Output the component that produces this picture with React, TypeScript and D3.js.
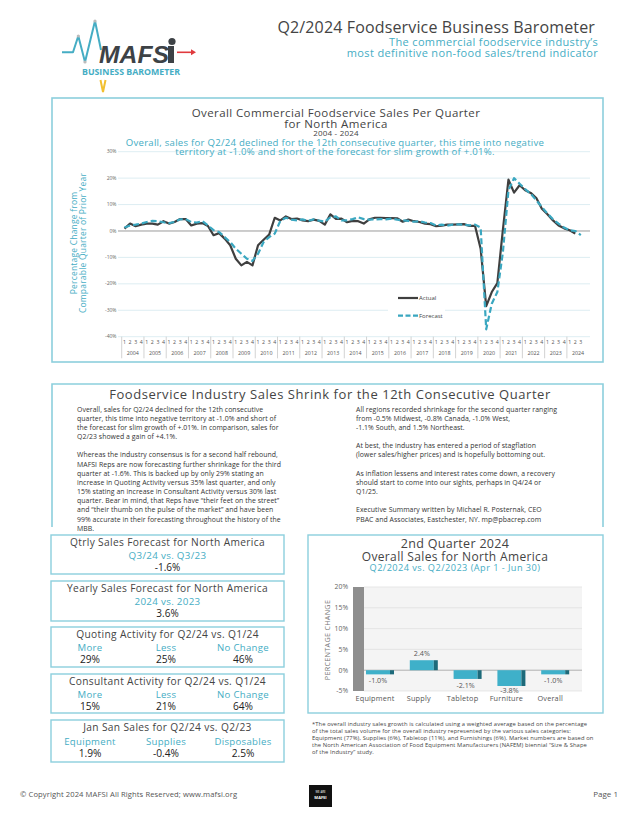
import React from "react";
import * as d3 from "d3";

// ---------- DATA ----------
const years = [2004,2005,2006,2007,2008,2009,2010,2011,2012,2013,2014,2015,2016,2017,2018,2019,2020,2021,2022,2023,2024];
const quarterLabels = ["1","2","3","4"];
const actual = [
  0.9, 2.8, 1.8, 2.4,
  2.8, 2.8, 2.4, 3.7,
  2.8, 3.4, 4.5, 4.5,
  2.1, 2.8, 3.0, 1.9,
  -1.6, -0.8, -2.9, -5.4,
  -10.5, -13.0, -11.7, -13.0,
  -5.4, -3.3, -1.4, 5.0,
  4.0, 5.5, 4.5, 4.7,
  4.0, 3.7, 4.3, 3.8,
  2.4, 6.3, 4.6, 4.7,
  3.3, 3.8, 3.7, 2.8,
  4.4, 5.0, 5.0, 4.9,
  4.9, 4.8, 3.5, 4.3,
  3.7, 3.4, 2.8, 2.6,
  1.8, 2.0, 2.4, 2.4,
  2.5, 2.6, 1.9, 1.9,
  -6.7, -28.4, -23.1, -19.7,
  0.5, 19.4, 14.5, 17.3,
  15.4, 14.4, 12.5, 8.4,
  6.3, 4.0, 2.1, 1.0,
  0.3, -1.0,
];
const forecast = [
  1.3, 2.1, 2.4, 2.8,
  3.4, 3.8, 3.7, 3.3,
  3.0, 3.4, 4.4, 4.5,
  3.4, 3.2, 3.7, 2.1,
  0.3, -0.4, -2.3, -4.2,
  -6.7, -8.6, -10.5, -11.3,
  -8.6, -4.2, -2.3, -1.0,
  3.8, 5.0, 4.3, 4.0,
  4.4, 3.8, 4.4, 3.9,
  3.5, 5.2, 5.5, 4.0,
  4.0, 4.5, 5.2, 4.5,
  4.3, 4.4, 4.5, 4.4,
  4.7, 4.3, 4.0, 3.8,
  3.5, 3.7, 3.2, 3.0,
  2.1, 2.4, 2.0, 2.4,
  2.5, 2.4, 2.1, 2.4,
  1.3, -37.2, -27.5, -23.1,
  -8.0, 15.4, 20.0, 17.9,
  15.8, 14.1, 11.6, 9.1,
  6.6, 4.4, 2.8, 1.3,
  0.3, 0.0, -1.6,
];
const yTicks = [30, 20, 10, 0, -10, -20, -30, -40];

const barCategories = ["Equipment", "Supply", "Tabletop", "Furniture", "Overall"];
const barValues = [-1.0, 2.4, -2.1, -3.8, -1.0];
const barTicks = [20, 15, 10, 5, 0, -5];

const leftColumn = [
  "Overall, sales for Q2/24 declined for the 12th consecutive",
  "quarter, this time into negative territory at -1.0% and short of",
  "the forecast for slim growth of +.01%. In comparison, sales for",
  "Q2/23 showed a gain of +4.1%.",
  "",
  "Whereas the industry consensus is for a second half rebound,",
  "MAFSI Reps are now forecasting further shrinkage for the third",
  "quarter at -1.6%.  This is backed up by only 29% stating an",
  "increase in Quoting Activity versus 35% last quarter, and only",
  "15% stating an increase in Consultant Activity versus 30% last",
  "quarter. Bear in mind, that Reps have \u201ctheir feet on the street\u201d",
  "and \u201ctheir thumb on the pulse of the market\u201d and have been",
  "99% accurate in their forecasting throughout the history of the",
  "MBB.",
];
const rightColumn = [
  "All regions recorded shrinkage for the second quarter ranging",
  "from -0.5% Midwest, -0.8% Canada, -1.0% West,",
  "-1.1% South, and 1.5% Northeast.",
  "",
  "At best, the industry has entered a period of stagflation",
  "(lower sales/higher prices) and is hopefully bottoming out.",
  "",
  "As inflation lessens and interest rates come down, a recovery",
  "should start to come into our sights, perhaps in Q4/24 or",
  "Q1/25.",
  "",
  "Executive Summary written by Michael R. Posternak, CEO",
  "PBAC and Associates, Eastchester, NY. mp@pbacrep.com",
];
const footnoteLines = [
  "*The overall industry sales growth is calculated using a weighted average based on the percentage",
  "of the total sales volume for the overall industry represented by the various sales categories:",
  "Equipment (77%), Supplies (6%), Tabletop (11%), and Furnishings (6%). Market numbers are based on",
  "the North American Association of Food Equipment Manufacturers (NAFEM) biennial \u201cSize & Shape",
  "of the Industry\u201d study.",
];

type StatBox = { title: string; labels: string[]; values: string[] };
const statBoxes: StatBox[] = [
  { title: "Qtrly Sales Forecast for North America", labels: ["Q3/24 vs. Q3/23"], values: ["-1.6%"] },
  { title: "Yearly Sales Forecast for North America", labels: ["2024 vs. 2023"], values: ["3.6%"] },
  { title: "Quoting Activity for Q2/24 vs. Q1/24", labels: ["More", "Less", "No Change"], values: ["29%", "25%", "46%"] },
  { title: "Consultant Activity for Q2/24 vs. Q1/24", labels: ["More", "Less", "No Change"], values: ["15%", "21%", "64%"] },
  { title: "Jan San Sales for Q2/24 vs. Q2/23", labels: ["Equipment", "Supplies", "Disposables"], values: ["1.9%", "-0.4%", "2.5%"] },
];

// ---------- STYLE ----------
const FONT = "'Open Sans', 'DejaVu Sans', sans-serif";
const TEAL = "#45adc4";
const BORDER = "#8ccfdd";
const DARK = "#3f3f3f";

export default function App() {
  // main line chart scales
  const x0 = 121.7;
  const qW = 5.565;
  const nQ = years.length * 4 - 1;
  const x = d3.scaleLinear().domain([0, nQ]).range([x0, x0 + nQ * qW]);
  const y = d3.scaleLinear().domain([-40, 30]).range([336.7, 151.7]);
  const line = d3
    .line<number>()
    .x((_, i) => x(i + 0.5))
    .y((d) => y(d))
    .curve(d3.curveLinear);

  // bar chart scales
  const bx = d3.scaleBand<string>().domain(barCategories).range([358, 577]);
  const by = d3.scaleLinear().domain([-5, 20]).range([691, 587]);

  const boxTops = [535, 581, 627, 674, 720];
  const boxH = [39, 40, 40, 39, 42];
  const colX = [90, 166, 243];

  return (
    <svg
      width={635}
      height={821}
      style={{ position: "absolute", left: 0, top: 0, background: "#fff", fontFamily: FONT }}
    >
      {/* ---------- HEADER / LOGO ---------- */}
      <polyline
        points="62,52.3 73,52.3 78.3,36 85,62 95,21 101,50"
        fill="none"
        stroke={TEAL}
        strokeWidth={2}
        strokeLinejoin="round"
      />
      <circle cx={78.3} cy={36} r={1.6} fill="#bbb" />
      <circle cx={85} cy={62} r={1.6} fill="#bbb" />
      <circle cx={95} cy={21} r={1.6} fill="#bbb" />
      <text
        x={99}
        y={63}
        fontFamily="'Liberation Sans', sans-serif"
        fontWeight={900}
        fontStyle="italic"
        fontSize={24}
        fill="#3d4246"
        textLength={70}
        lengthAdjust="spacingAndGlyphs"
      >
        MAFS
      </text>
      <rect x={168} y={46} width={6} height={17} fill="#3d4246" />
      <circle cx={172} cy={41.5} r={3.6} fill="#3d4246" />
      <line x1={177} y1={52.3} x2={192} y2={52.3} stroke="#e03a3e" strokeWidth={1.6} />
      <path d="M191,49.3 L196,52.3 L191,55.3 Z" fill="#e03a3e" />
      <text
        x={82}
        y={74.5}
        fontSize={8}
        fontWeight={700}
        fill={TEAL}
        textLength={98}
        lengthAdjust="spacingAndGlyphs"
      >
        BUSINESS BAROMETER
      </text>
      <path d="M100.5,80 L103,92 L105.5,80" fill="none" stroke="#f2c030" strokeWidth={2} />

      <text x={595} y={32.7} fontSize={16} fill="#444" textAnchor="end" letterSpacing={0.15}>
        Q2/2024 Foodservice Business Barometer
      </text>
      <text x={598} y={46} fontSize={11} fill={TEAL} textAnchor="end" letterSpacing={0.35}>
        The commercial foodservice industry{"\u2019"}s
      </text>
      <text x={598} y={56.7} fontSize={11} fill={TEAL} textAnchor="end" letterSpacing={0.35}>
        most definitive non-food sales/trend indicator
      </text>

      {/* ---------- MAIN CHART BOX ---------- */}
      <rect x={52} y={98} width={551} height={264} fill="none" stroke={BORDER} strokeWidth={1.6} />
      <text x={336} y={117} fontSize={11.5} fill="#444" textAnchor="middle" letterSpacing={0.4}>
        Overall Commercial Foodservice Sales Per Quarter
      </text>
      <text x={336} y={127.5} fontSize={11.5} fill="#444" textAnchor="middle" letterSpacing={0.4}>
        for North America
      </text>
      <text x={336} y={136} fontSize={8} fill="#444" textAnchor="middle" letterSpacing={0.2}>
        2004 - 2024
      </text>

      {/* gridlines */}
      {yTicks.map((t) => (
        <g key={t}>
          <line
            x1={118}
            x2={590}
            y1={y(t)}
            y2={y(t)}
            stroke={t === 0 ? "#9a9a9a" : "#d4e8ef"}
            strokeWidth={t === 0 ? 1 : 0.8}
          />
          <text x={116.5} y={y(t) + 1.6} fontSize={5} fill="#666" textAnchor="end">
            {t}%
          </text>
        </g>
      ))}

      <text x={335} y={146} fontSize={9.6} fill={TEAL} textAnchor="middle" letterSpacing={0.25}>
        Overall, sales for Q2/24 declined for the 12th consecutive quarter, this time into negative
      </text>
      <text x={335} y={155} fontSize={9.6} fill={TEAL} textAnchor="middle" letterSpacing={0.25}>
        territory at -1.0% and short of the forecast for slim growth of +.01%.
      </text>

      {/* y axis title */}
      <g transform="translate(77,243) rotate(-90)">
        <text x={0} y={0} fontSize={8.5} fill={TEAL} textAnchor="middle" letterSpacing={0.2}>
          Percentage Change from
        </text>
        <text x={0} y={9} fontSize={8.5} fill={TEAL} textAnchor="middle" letterSpacing={0.2}>
          Comparable Quarter of Prior Year
        </text>
      </g>

      {/* x axis */}
      {years.map((yr, yi) => {
        const nq = yi === years.length - 1 ? 3 : 4;
        const start = x(yi * 4);
        return (
          <g key={yr}>
            <line x1={start} x2={start} y1={336.7} y2={358.3} stroke="#b5b5b5" strokeWidth={0.6} />
            {quarterLabels.slice(0, nq).map((q, qi) => (
              <text
                key={q}
                x={x(yi * 4 + qi + 0.5)}
                y={343.5}
                fontSize={5.2}
                fill="#555"
                textAnchor="middle"
              >
                {q}
              </text>
            ))}
            <text x={x(yi * 4 + 2)} y={355.2} fontSize={5.3} fill="#555" textAnchor="middle">
              {yr}
            </text>
          </g>
        );
      })}

      {/* legend */}
      <rect x={388} y={289} width={57} height={33} fill="#fff" />
      <line x1={398} x2={418} y1={298} y2={298} stroke={DARK} strokeWidth={2.2} />
      <text x={419} y={300} fontSize={6} fill="#444">
        Actual
      </text>
      <line x1={398} x2={418} y1={315.7} y2={315.7} stroke="#3aa7c0" strokeWidth={2.2} strokeDasharray="5,2.5" />
      <text x={419} y={317.7} fontSize={6} fill="#444">
        Forecast
      </text>

      {/* lines */}
      <path d={line(actual) || ""} fill="none" stroke={DARK} strokeWidth={2.2} strokeLinejoin="round" />
      <path
        d={line(forecast) || ""}
        fill="none"
        stroke="#3aa7c0"
        strokeWidth={2.2}
        strokeDasharray="6,3"
        strokeLinejoin="round"
      />

      {/* ---------- SUMMARY SECTION ---------- */}
      <path d="M52,527 L52,384 L603,384 L603,527" fill="none" stroke={BORDER} strokeWidth={1.6} />
      <text x={330} y={398.5} fontSize={13} fill="#444" textAnchor="middle" letterSpacing={0.55}>
        Foodservice Industry Sales Shrink for the 12th Consecutive Quarter
      </text>
      {leftColumn.map((t, i) => (
        <text key={"l" + i} x={77} y={411.5 + i * 9.17} fontSize={6.9} fill="#333" letterSpacing={0.05}>
          {t}
        </text>
      ))}
      {rightColumn.map((t, i) => (
        <text key={"r" + i} x={356} y={411.5 + i * 9.17} fontSize={6.9} fill="#333" letterSpacing={0.05}>
          {t}
        </text>
      ))}

      {/* ---------- STAT BOXES ---------- */}
      {statBoxes.map((b, i) => {
        const top = boxTops[i];
        const off = i === 4 ? 1.5 : 0;
        return (
          <g key={b.title}>
            <rect x={51} y={top} width={233} height={boxH[i]} fill="none" stroke={BORDER} strokeWidth={1.4} />
            <text x={167.5} y={top + 10.5} fontSize={10.2} fill="#444" textAnchor="middle" letterSpacing={0.35}>
              {b.title}
            </text>
            {b.labels.length === 1 ? (
              <>
                <text x={167.5} y={top + 23.5} fontSize={9.8} fill={TEAL} textAnchor="middle" letterSpacing={0.3}>
                  {b.labels[0]}
                </text>
                <text x={167.5} y={top + 35.5} fontSize={10} fill="#222" textAnchor="middle">
                  {b.values[0]}
                </text>
              </>
            ) : (
              b.labels.map((l, j) => (
                <g key={l}>
                  <text x={colX[j]} y={top + 23.5 + off} fontSize={9.6} fill={TEAL} textAnchor="middle" letterSpacing={0.3}>
                    {l}
                  </text>
                  <text x={colX[j]} y={top + 35.5 + off} fontSize={10.2} fill="#222" textAnchor="middle">
                    {b.values[j]}
                  </text>
                </g>
              ))
            )}
          </g>
        );
      })}

      {/* ---------- BAR CHART ---------- */}
      <rect x={308} y={535} width={295} height={178} fill="none" stroke={BORDER} strokeWidth={1.4} />
      <text x={455} y={547.5} fontSize={12.5} fill="#444" textAnchor="middle" letterSpacing={0.3}>
        2nd Quarter 2024
      </text>
      <text x={455} y={560.5} fontSize={12} fill="#444" textAnchor="middle" letterSpacing={0.35}>
        Overall Sales for North America
      </text>
      <text x={455} y={571} fontSize={9.2} fill={TEAL} textAnchor="middle" letterSpacing={0.45}>
        Q2/2024 vs. Q2/2023 (Apr 1 - Jun 30)
      </text>

      <rect x={364} y={by(20)} width={218} height={by(-5) - by(20)} fill="#f4f4f4" />
      {barTicks.map((t) => (
        <g key={"bt" + t}>
          <line
            x1={364}
            x2={582}
            y1={by(t)}
            y2={by(t)}
            stroke={t === 0 ? "#b0b0b0" : "#dedede"}
            strokeWidth={t === 0 ? 1 : 0.7}
          />
          <text x={348} y={by(t) + 2.3} fontSize={6.8} fill="#666" textAnchor="end">
            {t}%
          </text>
        </g>
      ))}
      <rect x={353} y={by(20)} width={11} height={by(-5) - by(20)} fill="#8e8e8e" />
      <g transform="translate(330,640) rotate(-90)">
        <text x={0} y={0} fontSize={7.2} fill="#777" textAnchor="middle" letterSpacing={0.3}>
          PERCENTAGE CHANGE
        </text>
      </g>

      {barCategories.map((c, i) => {
        const v = barValues[i];
        const bxs = (bx(c) || 0) + 8;
        const y1 = by(Math.max(v, 0));
        const y2 = by(Math.min(v, 0));
        const cx = bxs + 14;
        return (
          <g key={c}>
            <rect x={bxs} y={y1} width={24} height={y2 - y1} fill="#3fb0c9" />
            <rect x={bxs + 24} y={y1} width={4} height={y2 - y1} fill="#1d6a7a" />
            <text
              x={cx - 2}
              y={v < 0 ? Math.min(y2 + 9, 693) : y1 - 4}
              fontSize={7.2}
              fill="#555"
              textAnchor="middle"
            >
              {v.toFixed(1)}%
            </text>
            <text x={cx - 5} y={701} fontSize={7.3} fill="#555" textAnchor="middle" letterSpacing={0.2}>
              {c}
            </text>
          </g>
        );
      })}

      {/* footnote */}
      {footnoteLines.map((t, i) => (
        <text key={"f" + i} x={312} y={726 + i * 7} fontSize={5.8} fill="#444" letterSpacing={0.1}>
          {t}
        </text>
      ))}

      {/* ---------- FOOTER ---------- */}
      <text x={20} y={797} fontSize={7.6} fill="#555" letterSpacing={0.1}>
        {"\u00a9"} Copyright 2024 MAFSI All Rights Reserved; www.mafsi.org
      </text>
      <rect x={309} y={785} width={23} height={22} fill="#111" />
      <text x={320.5} y={793} fontSize={2.8} fill="#fff" textAnchor="middle">
        WE ARE
      </text>
      <text x={320.5} y={799} fontSize={4} fontWeight={700} fill="#fff" textAnchor="middle">
        MAFSI
      </text>
      <text x={618} y={797} fontSize={8} fill="#555" textAnchor="end">
        Page 1
      </text>
    </svg>
  );
}
